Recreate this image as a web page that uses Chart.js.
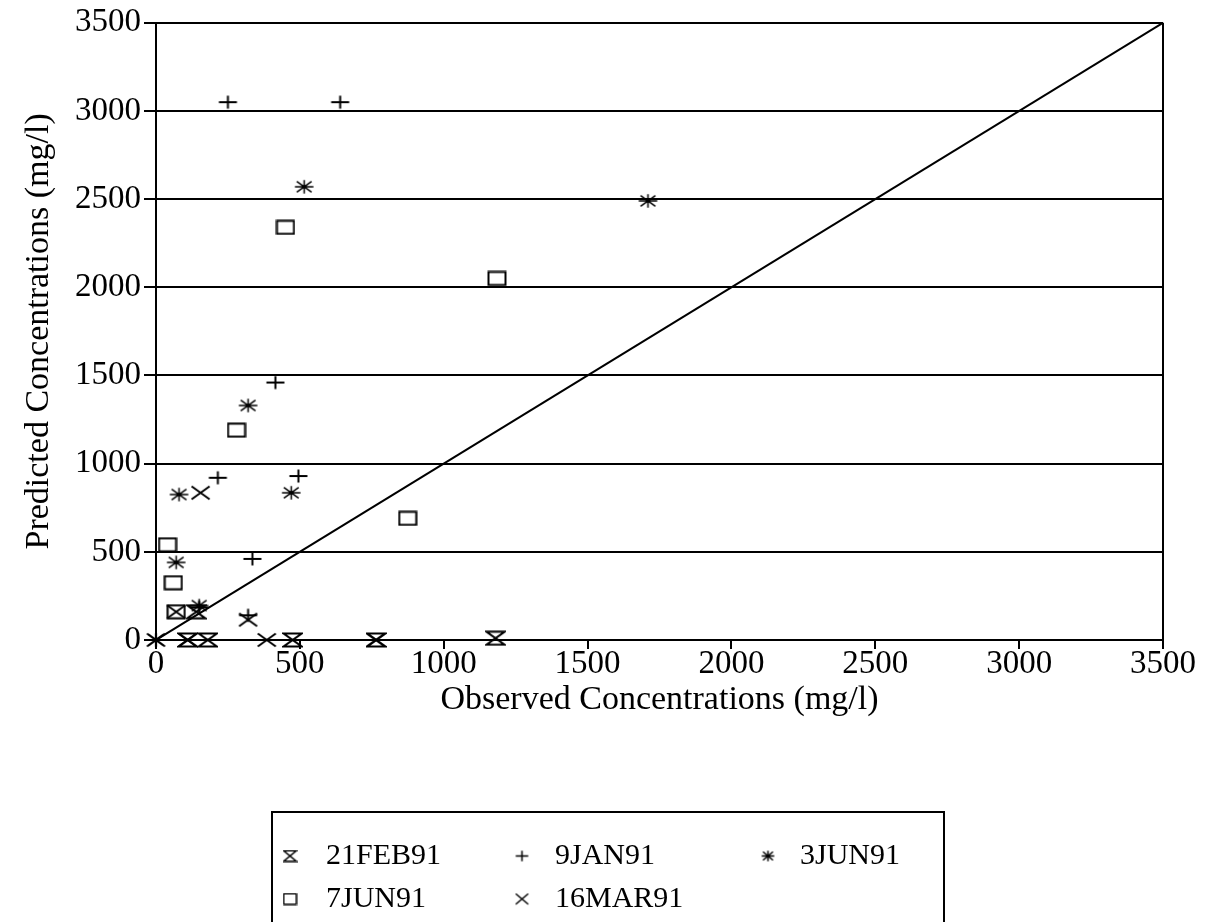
<!DOCTYPE html>
<html>
<head>
<meta charset="utf-8">
<script src="https://cdn.jsdelivr.net/npm/chart.js@4.4.0/dist/chart.umd.min.js"></script>
<style>
  html, body { margin: 0; padding: 0; background: #fff; }
  #wrap { width: 1211px; height: 922px; position: relative; }
</style>
</head>
<body>
<div id="wrap"><canvas id="chart" width="1211" height="922"></canvas></div>
<script>
// sampling dates
const seriesNames = ['21FEB91', '9JAN91', '3JUN91', '7JUN91', '16MAR91'];

// observed (x) vs predicted (y) concentrations, mg/l
const feb21X = [140, 110, 180, 475, 765, 1180];
const feb21Y = [160, 0, 0, 0, 0, 10];

const jan9X = [250, 640, 415, 215, 495, 335, 320, 150];
const jan9Y = [3050, 3050, 1460, 920, 930, 460, 140, 185];

const jun3X = [515, 1710, 320, 80, 470, 70, 150, 0];
const jun3Y = [2570, 2490, 1330, 825, 835, 440, 195, 0];

const jun7X = [450, 1185, 280, 875, 40, 60, 70];
const jun7Y = [2340, 2050, 1190, 690, 540, 325, 160];

const mar16X = [155, 70, 320, 385, 765, 110, 0];
const mar16Y = [835, 160, 115, 0, 0, 0, 0];

// 1:1 reference line
const diagX = [0, 3500];
const diagY = [0, 3500];

const axisMax = 3500;
const axisStep = 500;

const FONT = '"Liberation Serif", "Times New Roman", serif';

function makeMark(kind, w, h, lw) {
    const c = document.createElement('canvas');
    c.width = w;
    c.height = h;
    const g = c.getContext('2d');
    g.strokeStyle = '#000';
    g.lineWidth = lw;
    const m = lw / 2 + 0.5;
    const L = m, R = w - m, T = m, B = h - m, cx = w / 2, cy = h / 2;
    g.beginPath();
    if (kind === 'hourglass') {
        g.moveTo(L, T); g.lineTo(R, T); g.lineTo(L, B); g.lineTo(R, B); g.closePath();
    } else if (kind === 'box') {
        g.rect(L, T, R - L, B - T);
    } else {
        if (kind === 'plus' || kind === 'star') {
            g.moveTo(L, cy); g.lineTo(R, cy);
            g.moveTo(cx, T); g.lineTo(cx, B);
        }
        if (kind === 'cross' || kind === 'star') {
            const dx = kind === 'star' ? (R - L) * 0.4 : (R - L) / 2;
            const dy = kind === 'star' ? (B - T) * 0.4 : (B - T) / 2;
            g.moveTo(cx - dx, cy - dy); g.lineTo(cx + dx, cy + dy);
            g.moveTo(cx + dx, cy - dy); g.lineTo(cx - dx, cy + dy);
        }
    }
    g.stroke();
    if (kind === 'star') {
        g.fillStyle = '#000';
        g.fillRect(cx - lw, cy - lw, lw * 2, lw * 2);
    }
    return c;
}

const markKinds = ['hourglass', 'plus', 'star', 'box', 'cross'];
const plotMarks = markKinds.map(k => makeMark(k, k === 'box' ? 20 : 21, 16, k === 'star' ? 1.5 : 2));
const legendMarks = markKinds.map(k => makeMark(k, 15, 13, 1.5));

const seriesX = [feb21X, jan9X, jun3X, jun7X, mar16X];
const seriesY = [feb21Y, jan9Y, jun3Y, jun7Y, mar16Y];

const datasets = seriesNames.map((name, i) => ({
    type: 'scatter',
    label: name,
    data: seriesX[i].map((x, k) => ({ x: x, y: seriesY[i][k] })),
    pointStyle: plotMarks[i],
    pointRadius: 10,
    clip: false
}));

datasets.push({
    type: 'line',
    label: 'diag',
    data: diagX.map((x, k) => ({ x: x, y: diagY[k] })),
    borderColor: '#000',
    borderWidth: 2,
    pointRadius: 0,
    fill: false
});

// right frame edge and the boxed legend under the plot
const framePlugin = {
    id: 'frame',
    afterDraw(chart) {
        const { ctx, chartArea: a } = chart;
        ctx.save();
        ctx.strokeStyle = '#000';
        ctx.lineWidth = 2;
        ctx.beginPath();
        ctx.moveTo(a.right, a.top);
        ctx.lineTo(a.right, a.bottom);
        ctx.stroke();

        ctx.strokeRect(272, 812, 672, 160);

        const colMark = [290, 522, 768];
        const colText = [326, 555, 800];
        const rowY = [856, 899];
        ctx.fillStyle = '#000';
        ctx.font = '30px ' + FONT;
        ctx.textBaseline = 'middle';
        seriesNames.forEach((name, i) => {
            const col = i % 3, row = Math.floor(i / 3);
            const m = legendMarks[i];
            ctx.drawImage(m, colMark[col] - m.width / 2, rowY[row] - m.height / 2);
            ctx.fillText(name, colText[col], rowY[row]);
        });
        ctx.restore();
    }
};

const plainTick = v => String(v);

new Chart(document.getElementById('chart'), {
    data: { datasets: datasets },
    options: {
        responsive: false,
        animation: false,
        devicePixelRatio: 1,
        layout: { padding: { top: 22, right: 48, left: 0, bottom: 0 } },
        plugins: {
            legend: { display: false },
            tooltip: { enabled: false }
        },
        scales: {
            x: {
                type: 'linear',
                min: 0,
                max: axisMax,
                afterFit: s => { s.height = 282; },
                ticks: {
                    stepSize: axisStep,
                    callback: plainTick,
                    color: '#000',
                    font: { family: FONT, size: 33 },
                    padding: -4,
                    maxRotation: 0,
                    autoSkip: false
                },
                grid: {
                    drawOnChartArea: false,
                    drawTicks: true,
                    tickLength: 9,
                    color: '#000',
                    lineWidth: 2
                },
                border: { color: '#000', width: 2 },
                title: {
                    display: true,
                    text: 'Observed Concentrations (mg/l)',
                    color: '#000',
                    font: { family: FONT, size: 34 },
                    padding: { top: 0, bottom: 202 }
                }
            },
            y: {
                type: 'linear',
                min: 0,
                max: axisMax,
                afterFit: s => { s.width = 156; },
                ticks: {
                    stepSize: axisStep,
                    callback: plainTick,
                    color: '#000',
                    font: { family: FONT, size: 33 },
                    padding: 3
                },
                grid: {
                    color: '#000',
                    lineWidth: 2,
                    tickLength: 12
                },
                border: { color: '#000', width: 2 },
                title: {
                    display: true,
                    text: 'Predicted Concentrations (mg/l)',
                    color: '#000',
                    font: { family: FONT, size: 34 },
                    padding: { top: 19, bottom: 0 }
                }
            }
        }
    },
    plugins: [framePlugin]
});
</script>
</body>
</html>
